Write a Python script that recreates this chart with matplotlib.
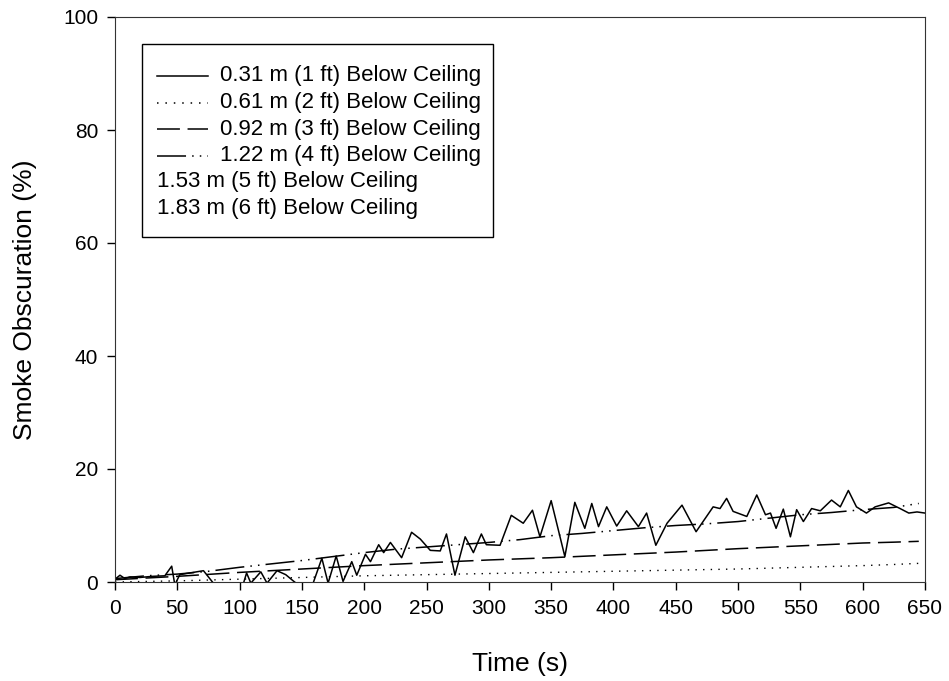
import numpy as np
import matplotlib
matplotlib.use("Agg")
import matplotlib.pyplot as plt
from matplotlib.lines import Line2D
from matplotlib.patches import Rectangle

plt.rcParams['font.family'] = ['Liberation Sans', 'DejaVu Sans']

# 0.31 m (1 ft) below ceiling - noisy solid trace
t1 = [0, 4, 8, 12, 20, 30, 40, 45.5, 48, 52, 60, 71, 80, 95, 103, 105.6, 109, 117, 122, 130,
      137, 143, 150, 159, 166, 171, 177.5, 183, 190, 194, 201, 205, 211.6, 215.6, 221, 230,
      238, 245, 253, 261, 266, 272.8, 281, 287.6, 294, 298, 309, 318, 327.6, 335, 341, 350,
      361, 369, 377, 382.6, 388, 394.6, 402.6, 410.6, 420, 426.6, 434, 443, 455, 466.3,
      480, 485.5, 490.8, 496, 507, 515, 522, 526, 530.5, 536.3, 542, 547, 552.4, 559,
      566, 575, 582, 588.5, 595, 603, 610, 620.8, 630, 637, 643.6, 650]
v1 = [0.5, 1.2, 0.6, 0.9, 0.8, 1.0, 1.1, 2.8, -0.5, 1.3, 1.6, 2.0, -0.5, -0.8, -0.3, 1.6, -0.2, 1.8, -0.2, 2.0,
      1.3, 0.2, -1.0, -0.2, 4.2, -0.2, 4.6, 0.1, 3.6, 1.2, 4.9, 3.6, 6.6, 5.2, 7.0, 4.3,
      8.8, 7.6, 5.6, 5.5, 8.5, 1.2, 8.0, 5.2, 8.5, 6.6, 6.5, 11.8, 10.4, 12.7, 8.0, 14.4,
      4.5, 14.1, 9.5, 13.9, 9.8, 13.3, 9.9, 12.6, 9.8, 12.2, 6.5, 10.4, 13.6, 8.9,
      13.3, 13.0, 14.8, 12.5, 11.6, 15.4, 11.9, 12.2, 9.5, 12.9, 8.0, 12.8, 10.7, 13.0,
      12.6, 14.5, 13.3, 16.2, 13.3, 12.2, 13.3, 14.0, 13.0, 12.2, 12.4, 12.2]

# smoother trends for the other heights
t_trend = [0, 25, 50, 75, 100, 125, 150, 175, 200, 225, 250, 275, 300, 325, 350, 375,
           400, 425, 450, 475, 500, 525, 550, 575, 600, 625, 645]
v2 = [0.0, 0.1, 0.2, 0.35, 0.5, 0.65, 0.8, 0.95, 1.1, 1.2, 1.3, 1.4, 1.5, 1.6, 1.7, 1.8,
      1.9, 2.0, 2.1, 2.2, 2.3, 2.45, 2.6, 2.75, 2.9, 3.1, 3.3]
v3 = [0.4, 0.7, 1.0, 1.35, 1.7, 2.0, 2.3, 2.6, 2.9, 3.15, 3.4, 3.65, 3.9, 4.1, 4.3, 4.55,
      4.8, 5.05, 5.3, 5.6, 5.9, 6.15, 6.4, 6.65, 6.9, 7.05, 7.2]
v4 = [0.6, 1.1, 1.4, 1.9, 2.6, 3.2, 3.8, 4.5, 5.2, 5.8, 6.2, 6.6, 7.0, 7.5, 8.2, 8.6,
      9.1, 9.6, 10.0, 10.3, 10.7, 11.3, 11.9, 12.3, 12.8, 13.2, 13.9]

labels = ["0.31 m (1 ft) Below Ceiling", "0.61 m (2 ft) Below Ceiling",
          "0.92 m (3 ft) Below Ceiling", "1.22 m (4 ft) Below Ceiling",
          "1.53 m (5 ft) Below Ceiling", "1.83 m (6 ft) Below Ceiling"]

styles = ['-', (0, (1, 4.5)), (0, (15, 5)), (0, (19, 4, 1, 4, 1, 4))]

fig = plt.figure(figsize=(9.49, 6.81), dpi=100)
ax = fig.add_axes([115/949, 99/681, 810/949, 565/681])

ax.plot(t1, v1, color='black', lw=1.1, ls=styles[0])
ax.plot(t_trend, v2, color='black', lw=1.0, ls=styles[1])
ax.plot(t_trend, v3, color='black', lw=1.1, ls=styles[2])
ax.plot(t_trend, v4, color='black', lw=1.1, ls=styles[3])

ax.set_xlim(0, 650)
ax.set_ylim(0, 100)
ax.set_xticks(np.arange(0, 651, 50))
ax.set_yticks(np.arange(0, 101, 20))
ax.tick_params(direction='out', length=6, width=1, labelsize=15, pad=6, top=False, right=False)
for s in ax.spines.values():
    s.set_color('#333333')
ax.set_xlabel("Time (s)", fontsize=19, labelpad=25)
ax.set_ylabel("Smoke Obscuration (%)", fontsize=19, labelpad=19)

# legend box drawn by hand (last two entries have no line sample)
H = 681
row_y = [76, 102.5, 129, 155.5, 182, 208.5]
texts = []
for i, lab in enumerate(labels):
    yy = (H - row_y[i]) / H
    if i < 4:
        fig.add_artist(Line2D([157/949, 208/949], [yy, yy], transform=fig.transFigure,
                              color='black', lw=1.1, ls=styles[i]))
        x_text = 220/949
    else:
        x_text = 157/949
    texts.append(fig.text(x_text, yy, lab, fontsize=16, va='center', ha='left'))

fig.canvas.draw()
r = fig.canvas.get_renderer()
right = max(t.get_window_extent(r).x1 for t in texts) + 12
fig.add_artist(Rectangle((142/949, (H-237)/H), (right-142)/949, (237-44)/H,
                         transform=fig.transFigure, fill=False, edgecolor='black', lw=1))

fig.savefig("out.png", dpi=100)
